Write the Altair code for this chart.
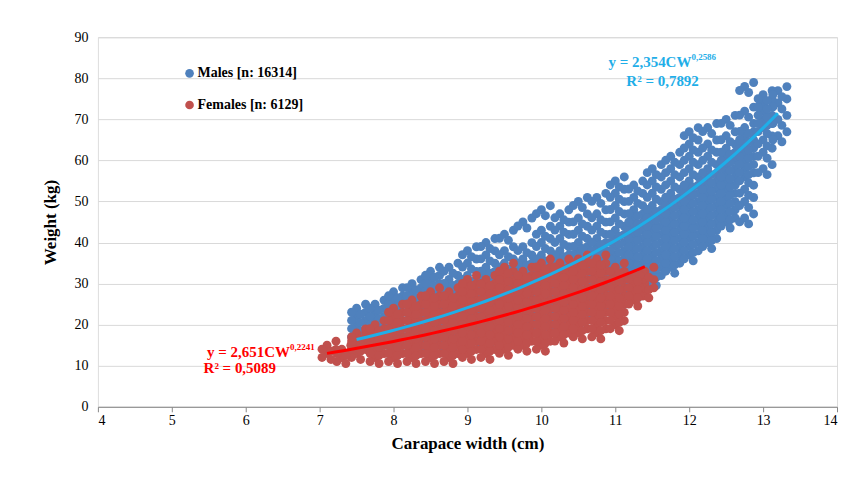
import altair as alt
import pandas as pd
import numpy as np

male_cols = {
7.5:[16,18,20,22,24],
7.75:[15,17,19,21,23,25],
8.0:[14,16,18,20,22,24,26,28],
8.25:[14,16,18,20,22,24,26,28,30],
8.5:[15,17,19,21,23,25,27,29,31,33],
8.75:[15,17,19,21,23,25,27,29,31,34],
9.0:[16,18,20,22,24,26,28,30,32,35,38],
9.25:[16,18,20,22,24,26,28,30,32,34,37,40],
9.5:[17,19,21,23,25,27,29,31,33,35,38,42],
9.75:[18,20,22,24,26,28,30,32,34,36,39,45],
10.0:[19,21,23,25,27,29,31,33,35,37,40,43,48],
10.25:[20,22,24,26,28,30,32,34,36,38,41,44,47],
10.5:[22,24,26,28,30,32,34,36,38,40,43,46,50],
10.75:[23,25,27,29,31,33,35,37,39,41,44,47,51],
11.0:[24,27,29,31,33,35,37,39,41,43,46,49,52,55],
11.25:[28,30,32,34,36,38,40,42,44,46,48,51,54],
11.5:[31,33,35,37,39,41,43,45,47,49,52,55,58],
11.75:[34,36,38,40,42,44,46,48,50,52,55,58,61],
12.0:[37,39,41,43,45,47,49,51,53,55,58,61,64,67],
12.25:[40,42,44,46,48,50,52,54,56,58,61,64,68],
12.5:[45,47,49,51,53,55,57,59,61,63,66,70],
12.75:[46,50,53,56,58,60,62,64,66,68,72,78],
13.0:[58,62,65,68,70,72,74,76],
13.2:[66,70,74,77],
}
female_cols = {
7.1:[13,15],
7.3:[12,14],
7.5:[13,15,17,18],
7.75:[12,14,16,18,20],
8.0:[12,14,16,18,20,22,24],
8.25:[12,14,16,18,20,22,24,26],
8.5:[12,14,16,18,20,22,24,26,28],
8.75:[12,14,16,18,20,22,24,26,28],
9.0:[13,15,17,19,21,23,25,27,29,31],
9.25:[13,15,17,19,21,23,25,27,29,31],
9.5:[14,16,18,20,22,24,26,28,30,32,34],
9.75:[15,17,19,21,23,25,27,29,31,33],
10.0:[15,17,19,21,23,25,27,29,31,33,35],
10.25:[17,19,21,23,25,27,29,31,33,35],
10.5:[18,20,22,24,26,28,30,32,34,36],
10.75:[18,20,22,24,26,28,30,32,34,36],
11.0:[20,22,24,26,28,30,32,34],
11.25:[26,28,30,32],
11.4:[28,30,33],
}
male_a, male_b = 2.354, 0.2586
fem_a, fem_b = 2.651, 0.2241

def flat(cols):
    return pd.DataFrame([{"x": x, "y": y} for x, ys in cols.items() for y in ys])

mpts, fpts = flat(male_cols), flat(female_cols)
mx = np.linspace(7.5, 13.2, 40)
fx = np.linspace(7.1, 11.4, 40)
mtrend = pd.DataFrame({"x": mx, "y": male_a*np.exp(male_b*mx)})
ftrend = pd.DataFrame({"x": fx, "y": fem_a*np.exp(fem_b*fx)})

BLUE, RED = "#4F81BD", "#C0504D"
FONT = "Liberation Serif"
xs = alt.Scale(domain=[4, 14], nice=False)
ys = alt.Scale(domain=[0, 90], nice=False)
X = alt.X("x:Q", scale=xs, axis=alt.Axis(title="Carapace width (cm)", values=list(range(4, 15)), grid=False, format="d",
          labelFont=FONT, labelFontSize=14, titleFont=FONT, titleFontSize=17, titleFontWeight="bold",
          labelColor="black", titleColor="black", domainColor="#888", tickColor="#888", titlePadding=8))
Y = alt.Y("y:Q", scale=ys, axis=alt.Axis(title="Weight  (kg)", values=list(range(0, 91, 10)), grid=True, format="d",
          gridColor="#d9d9d9", labelFont=FONT, labelFontSize=14, titleFont=FONT, titleFontSize=17,
          titleFontWeight="bold", labelColor="black", titleColor="black", domain=False, ticks=False,
          labelPadding=10, titlePadding=14))

def cloud(df, color):
    layers = []
    for dx, dy in [(0, 0), (9, -4), (-5, 4), (4, 6)]:
        layers.append(alt.Chart(df).mark_circle(size=80, opacity=1, color=color, xOffset=dx, yOffset=dy).encode(x=X, y=Y))
    return alt.layer(*layers)

males = cloud(mpts, BLUE)
females = cloud(fpts, RED)
tlm = alt.Chart(mtrend).mark_line(strokeWidth=3, color="#1FAEE8").encode(x="x:Q", y="y:Q")
tlf = alt.Chart(ftrend).mark_line(strokeWidth=3, color="#FF0000").encode(x="x:Q", y="y:Q")

leg = pd.DataFrame([{"x": 5.24, "y": 81.2, "c": BLUE, "t": "Males [n: 16314]"},
                    {"x": 5.24, "y": 73.5, "c": RED, "t": "Females [n: 6129]"}])
legp = alt.Chart(leg).mark_circle(size=75, opacity=1).encode(x="x:Q", y="y:Q", color=alt.Color("c:N", scale=None))
legt = alt.Chart(leg).mark_text(align="left", dx=8, font=FONT, fontSize=14, fontWeight="bold", color="black").encode(
    x="x:Q", y="y:Q", text="t:N")

def eq(x_end, y, main, exp, r2, r2x, r2y, color):
    d = pd.DataFrame([{"x": x_end, "y": y, "t": main}])
    e = pd.DataFrame([{"x": x_end, "y": y, "t": exp}])
    r = pd.DataFrame([{"x": r2x, "y": r2y, "t": r2}])
    m1 = alt.Chart(d).mark_text(align="right", font=FONT, fontSize=15, fontWeight="bold", color=color).encode(x="x:Q", y="y:Q", text="t:N")
    m2 = alt.Chart(e).mark_text(align="left", dy=-5, font=FONT, fontSize=9, fontWeight="bold", color=color).encode(x="x:Q", y="y:Q", text="t:N")
    m3 = alt.Chart(r).mark_text(align="center", font=FONT, fontSize=15, fontWeight="bold", color=color).encode(x="x:Q", y="y:Q", text="t:N")
    return m1 + m2 + m3

eqm = eq(12.03, 84.0, "y = 2,354CW", "0,2586", "R² = 0,7892", 11.64, 79.4, "#1FAEE8")
eqf = eq(6.6, 13.4, "y = 2,651CW", "0,2241", "R² = 0,5089", 5.92, 9.5, "#FF0000")

chart = alt.layer(males, females, tlm, tlf, legp, legt, eqm, eqf).properties(
    width=740, height=370, autosize="none",
    padding={"left": 90, "top": 29, "right": 20, "bottom": 56},
).configure_view(stroke=None).configure(background="white")
chart.save("out.html", embed_options={"renderer": "svg", "actions": False})
